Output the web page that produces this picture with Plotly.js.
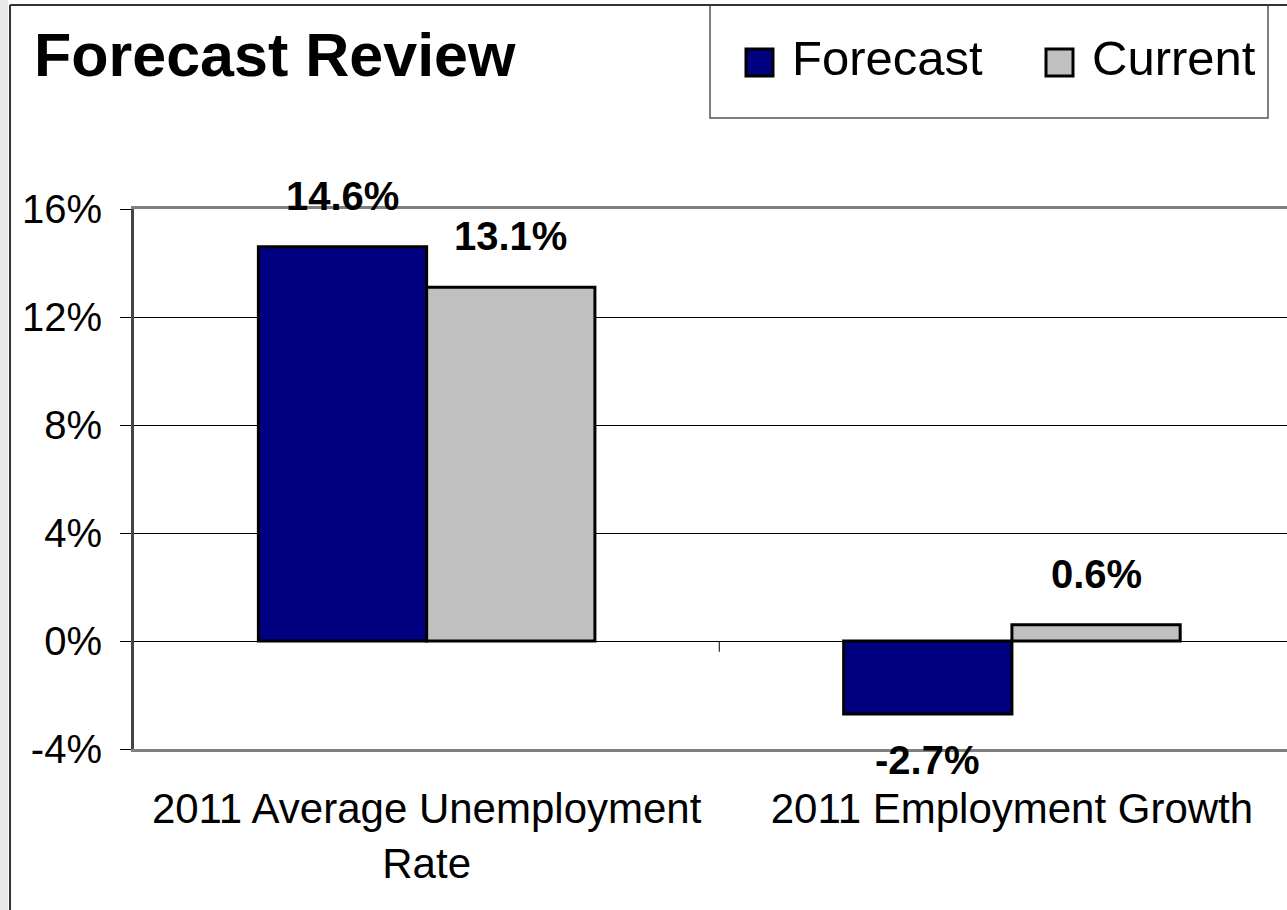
<!DOCTYPE html>
<html>
<head>
<meta charset="utf-8">
<script src="https://cdn.plot.ly/plotly-3.0.1.min.js"></script>
<style>
  html, body { margin: 0; padding: 0; background: #ffffff; overflow: hidden; }
  #chart { width: 1287px; height: 910px; }
</style>
</head>
<body>
<div id="chart"></div>
<script>
// ---- Data ----
const categories = ['2011 Average Unemployment<br>Rate', '2011 Employment Growth'];
const forecast = [14.6, -2.7];
const current = [13.1, 0.6];
const seriesNames = ['Forecast', 'Current'];
const yTickVals = [-4, 0, 4, 8, 12, 16];
const yTickText = ['-4%', '0%', '4%', '8%', '12%', '16%'];

// ---- Styling ----
const FONT = 'Liberation Sans, Arial, Helvetica, sans-serif';
const W = 1287, H = 910;
const M = { l: 134, r: 0, t: 209, b: 161 };
const plotW = W - M.l - M.r, plotH = H - M.t - M.b;
const px = x => (x - M.l) / plotW;          // page x -> paper x
const py = y => (H - M.b - y) / plotH;      // page y -> paper y
const BARGAP = 0.425;
const colors = ['#000080', '#C0C0C0'];

const traces = [forecast, current].map((vals, s) => ({
  type: 'bar',
  name: seriesNames[s],
  x: categories,
  y: vals,
  marker: { color: colors[s], line: { color: '#000000', width: 3 } },
  showlegend: false,
  hoverinfo: 'x+y'
}));

// data labels
const annotations = [];
const half = (1 - BARGAP) / 4;
[forecast, current].forEach((vals, s) => {
  vals.forEach((v, i) => {
    annotations.push({
      xref: 'x', yref: 'y',
      x: i + (s === 0 ? -half : half),
      y: v,
      text: v.toFixed(1) + '%',
      showarrow: false,
      xanchor: 'center',
      yanchor: v >= 0 ? 'bottom' : 'top',
      yshift: v >= 0 ? 27 : -22,
      font: { family: FONT, size: 40, color: '#000000', weight: 'bold' }
    });
  });
});

// title
annotations.push({
  xref: 'paper', yref: 'paper', x: px(32), y: py(55),
  xanchor: 'left', yanchor: 'middle', showarrow: false,
  text: '<b>Forecast Review</b>',
  font: { family: FONT, size: 61, color: '#000000' }
});

// legend texts
const legendItems = [
  { name: seriesNames[0], color: colors[0], sq: 746, tx: 790 },
  { name: seriesNames[1], color: colors[1], sq: 1046, tx: 1090 }
];
const shapes = [];
legendItems.forEach(it => {
  annotations.push({
    xref: 'paper', yref: 'paper', x: px(it.tx), y: py(58),
    xanchor: 'left', yanchor: 'middle', showarrow: false,
    text: it.name, font: { family: FONT, size: 49, color: '#000000' }
  });
  shapes.push({
    type: 'rect', xref: 'paper', yref: 'paper',
    x0: px(it.sq), x1: px(it.sq + 27), y0: py(49), y1: py(76),
    fillcolor: it.color, line: { color: '#000000', width: 3 }
  });
});

// legend box
shapes.push({
  type: 'rect', xref: 'paper', yref: 'paper',
  x0: px(710), x1: px(1268), y0: py(5), y1: py(118),
  fillcolor: 'rgba(0,0,0,0)', line: { color: '#555555', width: 1.5 }
});
// outer chart frame (left & top)
shapes.push({
  type: 'line', xref: 'paper', yref: 'paper',
  x0: px(10), x1: px(10), y0: py(5), y1: py(910),
  line: { color: '#333333', width: 2 }
});
shapes.push({
  type: 'line', xref: 'paper', yref: 'paper',
  x0: px(10), x1: px(1287), y0: py(5), y1: py(5),
  line: { color: '#333333', width: 2 }
});
// striped left margin band
shapes.push({
  type: 'rect', xref: 'paper', yref: 'paper',
  x0: px(0), x1: px(8), y0: py(0), y1: py(910),
  fillcolor: '#e9e9e9', line: { width: 0 }, layer: 'below'
});
// category boundary tick on the zero line
shapes.push({
  type: 'line', xref: 'x', yref: 'y',
  x0: 0.5, x1: 0.5, y0: 0, y1: -0.4,
  line: { color: '#000000', width: 1 }
});

const layout = {
  width: W, height: H,
  margin: M,
  paper_bgcolor: '#ffffff',
  plot_bgcolor: '#ffffff',
  barmode: 'group',
  bargap: BARGAP,
  bargroupgap: 0,
  showlegend: false,
  font: { family: FONT, color: '#000000' },
  xaxis: {
    type: 'category',
    range: [-0.5, 1.47],
    showgrid: false,
    zeroline: false,
    showline: true,
    mirror: true,
    linecolor: '#808080',
    linewidth: 3,
    ticks: '',
    ticklabelstandoff: 21,
    tickfont: { family: FONT, size: 42, color: '#000000' },
    fixedrange: true
  },
  yaxis: {
    range: [-4, 16],
    tickmode: 'array',
    tickvals: yTickVals,
    ticktext: yTickText,
    ticks: 'outside',
    ticklen: 11,
    tickwidth: 1,
    tickcolor: '#000000',
    showline: true,
    linecolor: '#444444',
    linewidth: 3,
    showgrid: true,
    gridcolor: '#000000',
    gridwidth: 1,
    zeroline: true,
    zerolinecolor: '#000000',
    zerolinewidth: 1,
    ticklabelstandoff: 10,
    tickfont: { family: FONT, size: 40, color: '#000000' },
    fixedrange: true
  },
  annotations: annotations,
  shapes: shapes
};

Plotly.newPlot('chart', traces, layout, { displayModeBar: false, staticPlot: true });
</script>
</body>
</html>
